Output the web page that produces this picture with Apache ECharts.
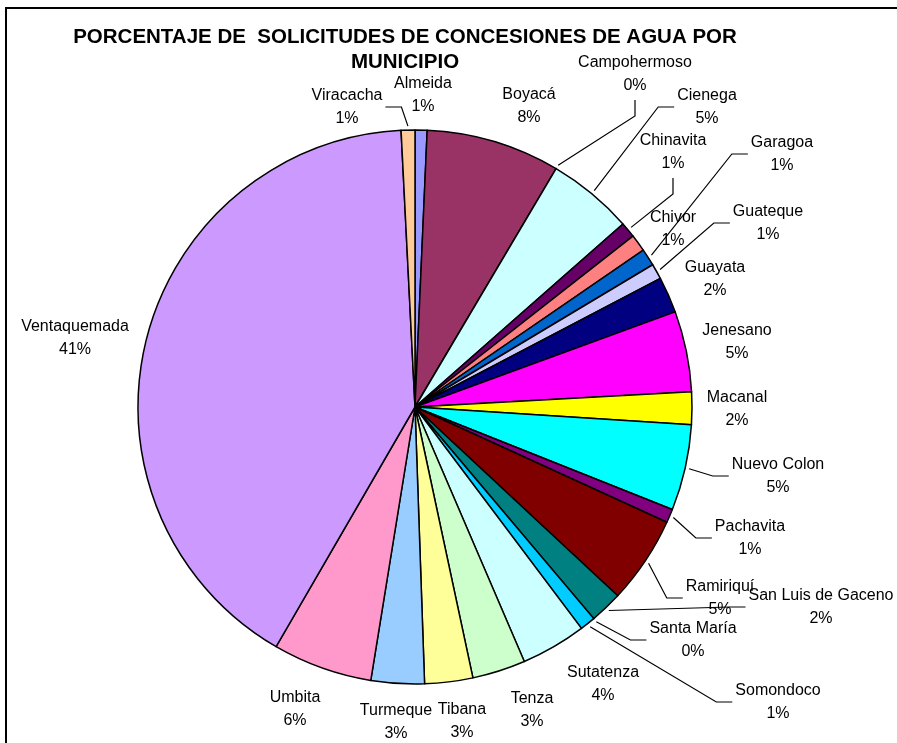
<!DOCTYPE html>
<html>
<head>
<meta charset="utf-8">
<script src="https://cdn.jsdelivr.net/npm/echarts@6/dist/echarts.min.js"></script>
<style>
  html, body { margin: 0; padding: 0; background: #fff; }
  #chart { width: 897px; height: 743px; }
</style>
</head>
<body>
<div id="chart"></div>
<script>
const municipios = [
  'Almeida', 'Boyacá', 'Campohermoso', 'Cienega', 'Chinavita', 'Chivor',
  'Garagoa', 'Guateque', 'Guayata', 'Jenesano', 'Macanal', 'Nuevo Colon',
  'Pachavita', 'Ramiriquí', 'San Luis de Gaceno', 'Santa María', 'Somondoco',
  'Sutatenza', 'Tenza', 'Tibana', 'Turmeque', 'Umbita', 'Ventaquemada', 'Viracacha'
];
// share of water concession requests (%)
const solicitudes = [
  0.7, 7.8, 0, 5.0, 0.9, 1.0,
  1.0, 0.9, 2.1, 4.7, 1.9, 5.0,
  0.8, 5.1, 1.9, 0, 0.9,
  3.8, 3.1, 2.8, 3.1, 5.8, 40.8, 0.8
];
const colores = [
  '#9999FF', '#993366', '#FFFFCC', '#CCFFFF', '#660066', '#FF8080',
  '#0066CC', '#CCCCFF', '#000080', '#FF00FF', '#FFFF00', '#00FFFF',
  '#800080', '#800000', '#008080', '#0000FF', '#00CCFF',
  '#CCFFFF', '#CCFFCC', '#FFFF99', '#99CCFF', '#FF99CC', '#CC99FF', '#FFCC99'
];

// label block centres, as they were dragged in the original sheet
const labelSpots = {
  'Viracacha': [347, 107], 'Almeida': [423, 95], 'Boyacá': [529, 106],
  'Campohermoso': [635, 74], 'Cienega': [707, 107], 'Chinavita': [673, 152],
  'Chivor': [673, 229], 'Garagoa': [782, 154], 'Guateque': [768, 223],
  'Guayata': [715, 279], 'Jenesano': [737, 342], 'Macanal': [737, 409],
  'Nuevo Colon': [778, 476], 'Pachavita': [750, 538], 'Ramiriquí': [720, 598],
  'San Luis de Gaceno': [821, 607], 'Santa María': [693, 640], 'Somondoco': [778, 702],
  'Sutatenza': [603, 684], 'Tenza': [532, 710], 'Tibana': [462, 721],
  'Turmeque': [396, 722], 'Umbita': [295, 709], 'Ventaquemada': [75, 338]
};
const withLeader = ['Viracacha', 'Campohermoso', 'Cienega', 'Chinavita', 'Garagoa',
  'Guateque', 'Nuevo Colon', 'Pachavita', 'Ramiriquí', 'San Luis de Gaceno',
  'Santa María', 'Somondoco'];

const center = [415, 407];
const radius = 277;
const total = solicitudes.reduce((a, b) => a + b, 0);

// mid angle of each slice, clockwise from 12 o'clock
const midAngles = [];
let acc = 0;
solicitudes.forEach(v => {
  midAngles.push((acc + v / 2) / total * 2 * Math.PI);
  acc += v;
});

// Excel style leader: slice edge -> elbow -> side (or bottom) of the label
function leaderPoints(i, spot, w, h) {
  const a = midAngles[i];
  const sx = center[0] + (radius + 4) * Math.sin(a);
  const sy = center[1] - (radius + 4) * Math.cos(a);
  const cx = spot[0], cy = spot[1];
  let ax, ay, ex, ey;
  if (Math.abs(sy - cy) > Math.abs(sx - cx)) {
    const dir = sy > cy ? 1 : -1;
    ax = cx; ay = cy + dir * (h / 2 + 3);
    ex = ax; ey = ay + dir * 16;
  } else {
    const dir = sx > cx ? 1 : -1;
    ax = cx + dir * (w / 2 + 3); ay = cy;
    ex = ax + dir * 16; ey = ay;
  }
  return [[sx, sy], [ex, ey], [ax, ay]];
}

const data = municipios.map((name, i) => ({
  name: name,
  value: solicitudes[i],
  itemStyle: { color: colores[i] },
  labelLine: { show: withLeader.indexOf(name) >= 0 }
}));

const chart = echarts.init(document.getElementById('chart'), null, { renderer: 'canvas' });

chart.setOption({
  backgroundColor: '#fff',
  animation: false,
  textStyle: { fontFamily: '"Liberation Sans", Arial, sans-serif' },
  title: {
    text: 'PORCENTAJE DE  SOLICITUDES DE CONCESIONES DE AGUA POR\nMUNICIPIO',
    left: 400,
    top: 20,
    textAlign: 'center',
    textStyle: {
      fontFamily: '"Liberation Sans", Arial, sans-serif',
      fontSize: 20.5,
      fontWeight: 'bold',
      color: '#000',
      lineHeight: 25
    }
  },
  graphic: [{
    type: 'rect',
    z: -1,
    shape: { x: 6, y: 8, width: 1200, height: 1200 },
    style: { fill: null, stroke: '#000', lineWidth: 2 }
  }],
  series: [{
    type: 'pie',
    center: center,
    radius: radius,
    startAngle: 90,
    clockwise: true,
    avoidLabelOverlap: false,
    data: data,
    itemStyle: { borderColor: '#000', borderWidth: 1.5 },
    emphasis: { disabled: true },
    label: {
      show: true,
      position: 'outside',
      color: '#000',
      fontSize: 16,
      lineHeight: 23,
      fontFamily: '"Liberation Sans", Arial, sans-serif',
      formatter: p => p.name + '\n' + Math.round(p.value / total * 100) + '%'
    },
    labelLine: {
      length: 10,
      length2: 10,
      lineStyle: { color: '#000', width: 1.2 }
    },
    labelLayout: function (params) {
      const i = params.dataIndex;
      const spot = labelSpots[municipios[i]];
      const w = params.labelRect.width, h = params.labelRect.height;
      return {
        x: spot[0],
        y: spot[1],
        align: 'center',
        verticalAlign: 'middle',
        labelLinePoints: leaderPoints(i, spot, w, h)
      };
    }
  }]
});
</script>
</body>
</html>
